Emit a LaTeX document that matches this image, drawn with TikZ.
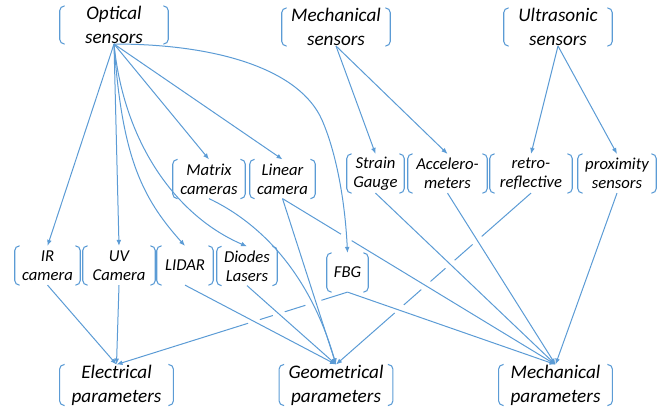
\documentclass[tikz,border=0pt]{standalone}
\usepackage{fontspec}
\setmainfont{Carlito}
\usetikzlibrary{calc,arrows.meta}
\definecolor{lineblue}{RGB}{91,155,213}
\tikzset{
    brk/.style = {align=center, inner sep=0pt, text=black,
        append after command={\pgfextra{
            \draw[lineblue, line width=0.8pt, rounded corners=3.5pt]
                ($(\tikzlastnode.north west)+(5,0)$) -- (\tikzlastnode.north west)
                -- (\tikzlastnode.south west) -- ($(\tikzlastnode.south west)+(5,0)$)
                ($(\tikzlastnode.north east)+(-5,0)$) -- (\tikzlastnode.north east)
                -- (\tikzlastnode.south east) -- ($(\tikzlastnode.south east)+(-5,0)$);}}},
    groupbox/.style = {brk, minimum width=81pt, minimum height=27pt,
        font=\fontsize{14.4}{18}\selectfont\itshape},
    sensorbox/.style = {brk, minimum width=#1, minimum height=29pt,
        font=\fontsize{12.5}{14.25}\selectfont\itshape},
    parambox/.style = {brk, minimum width=85pt, minimum height=27pt,
        font=\fontsize{14.4}{18}\selectfont\itshape},
    arrow/.style = {draw=lineblue, line width=0.75pt, -{Latex[length=4.5pt,width=3.6pt]}},
    gapcut/.style = {draw=white, line width=2.5pt}
}
\begin{document}
\begin{tikzpicture}[x=0.75pt, y=-0.75pt]
    \useasboundingbox (0,0) rectangle (663,408);
    % sensor families
    \node [groupbox] (opt) at (114,25) {Optical\\sensors};
    \node [groupbox] (mech) at (336,27) {Mechanical\\sensors};
    \node [groupbox] (ultra) at (558,27) {Ultrasonic\\sensors};
    % sensors
    \node [sensorbox=54pt] (matrix) at (209,179) {Matrix\\cameras};
    \node [sensorbox=48.75pt] (linear) at (282.5,179) {Linear\\camera};
    \node [sensorbox=42.75pt] (strain) at (375.5,173.5) {Strain\\Gauge};
    \node [sensorbox=59.25pt] (accel) at (447.5,173.5) {Accelero-\\meters};
    \node [sensorbox=61.5pt] (retro) at (531,173.5) {retro-\\reflective};
    \node [sensorbox=58.5pt] (prox) at (617,173.5) {proximity\\sensors};
    \node [sensorbox=48.75pt] (ir) at (47.5,265.5) {IR\\camera};
    \node [sensorbox=54pt] (uv) at (119,265.5) {UV\\Camera};
    \node [sensorbox=42pt] (lidar) at (185,265.5) {LIDAR};
    \node [sensorbox=45pt] (diodes) at (247,266) {Diodes\\Lasers};
    \node [sensorbox=30.75pt] (fbg) at (347.5,272.5) {FBG};
    % measured parameters
    \node [parambox] (elec) at (116.5,385) {Electrical\\parameters};
    \node [parambox] (geom) at (336,385) {Geometrical\\parameters};
    \node [parambox] (mpar) at (555.5,385) {Mechanical\\parameters};
    \coordinate (fbgbend) at (322,120);

    % lines that pass underneath, with their gaps
    \draw [arrow] (fbg.south) -- (elec.north);
    \draw [arrow] (retro.south) -- (geom.north);
    \draw [gapcut] ($(fbg.south)!0.113!(elec.north)$) -- ($(fbg.south)!0.182!(elec.north)$);
    \draw [gapcut] ($(fbg.south)!0.272!(elec.north)$) -- ($(fbg.south)!0.322!(elec.north)$);
    \draw [gapcut] ($(fbg.south)!0.380!(elec.north)$) -- ($(fbg.south)!0.430!(elec.north)$);
    \draw [gapcut] ($(retro.south)!0.253!(geom.north)$) -- ($(retro.south)!0.299!(geom.north)$);
    \draw [gapcut] ($(retro.south)!0.392!(geom.north)$) -- ($(retro.south)!0.438!(geom.north)$);
    \draw [gapcut] ($(retro.south)!0.516!(geom.north)$) -- ($(retro.south)!0.562!(geom.north)$);
    \draw [gapcut] ($(retro.south)!0.653!(geom.north)$) -- ($(retro.south)!0.699!(geom.north)$);
    \draw [arrow] (linear.south) -- (mpar.north);
    \draw [gapcut] ($(linear.south)!0.215!(mpar.north)$) -- ($(linear.south)!0.253!(mpar.north)$);

    % optical sensors
    \draw [arrow] (opt.south) -- (ir.north);
    \draw [arrow] (opt.south) -- (uv.north);
    \draw [arrow] (opt.south) .. controls +(8,110) and +(-45,-50) .. (lidar.north);
    \draw [arrow] (opt.south) .. controls +(10,100) and +(-70,-30) .. (diodes.north);
    \draw [arrow] (opt.south) -- (matrix.north);
    \draw [arrow] (opt.south) -- (linear.north);
    \draw [arrow] (opt.south) .. controls +(105,0) and +(-22,-50) .. (fbgbend)
        .. controls +(14,32) and +(-2.5,-53) .. (fbg.north);
    % mechanical and ultrasonic sensors
    \draw [arrow] (mech.south) -- (strain.north);
    \draw [arrow] (mech.south) -- (accel.north);
    \draw [arrow] (ultra.south) -- (retro.north);
    \draw [arrow] (ultra.south) -- (prox.north);

    % sensors to parameters
    \draw [arrow] (ir.south) -- (elec.north);
    \draw [arrow] (uv.south) -- (elec.north);
    \draw [arrow] (lidar.south) -- (geom.north);
    \draw [arrow] (diodes.south) -- (geom.north);
    \draw [arrow] (matrix.south) .. controls +(36,17) and +(-31,-107) .. (geom.north);
    \draw [arrow] (linear.south) -- (geom.north);
    \draw [arrow] (fbg.south) -- (mpar.north);
    \draw [arrow] (strain.south) -- (mpar.north);
    \draw [arrow] (accel.south) -- (mpar.north);
    \draw [arrow] (prox.south) -- (mpar.north);
\end{tikzpicture}
\end{document}
